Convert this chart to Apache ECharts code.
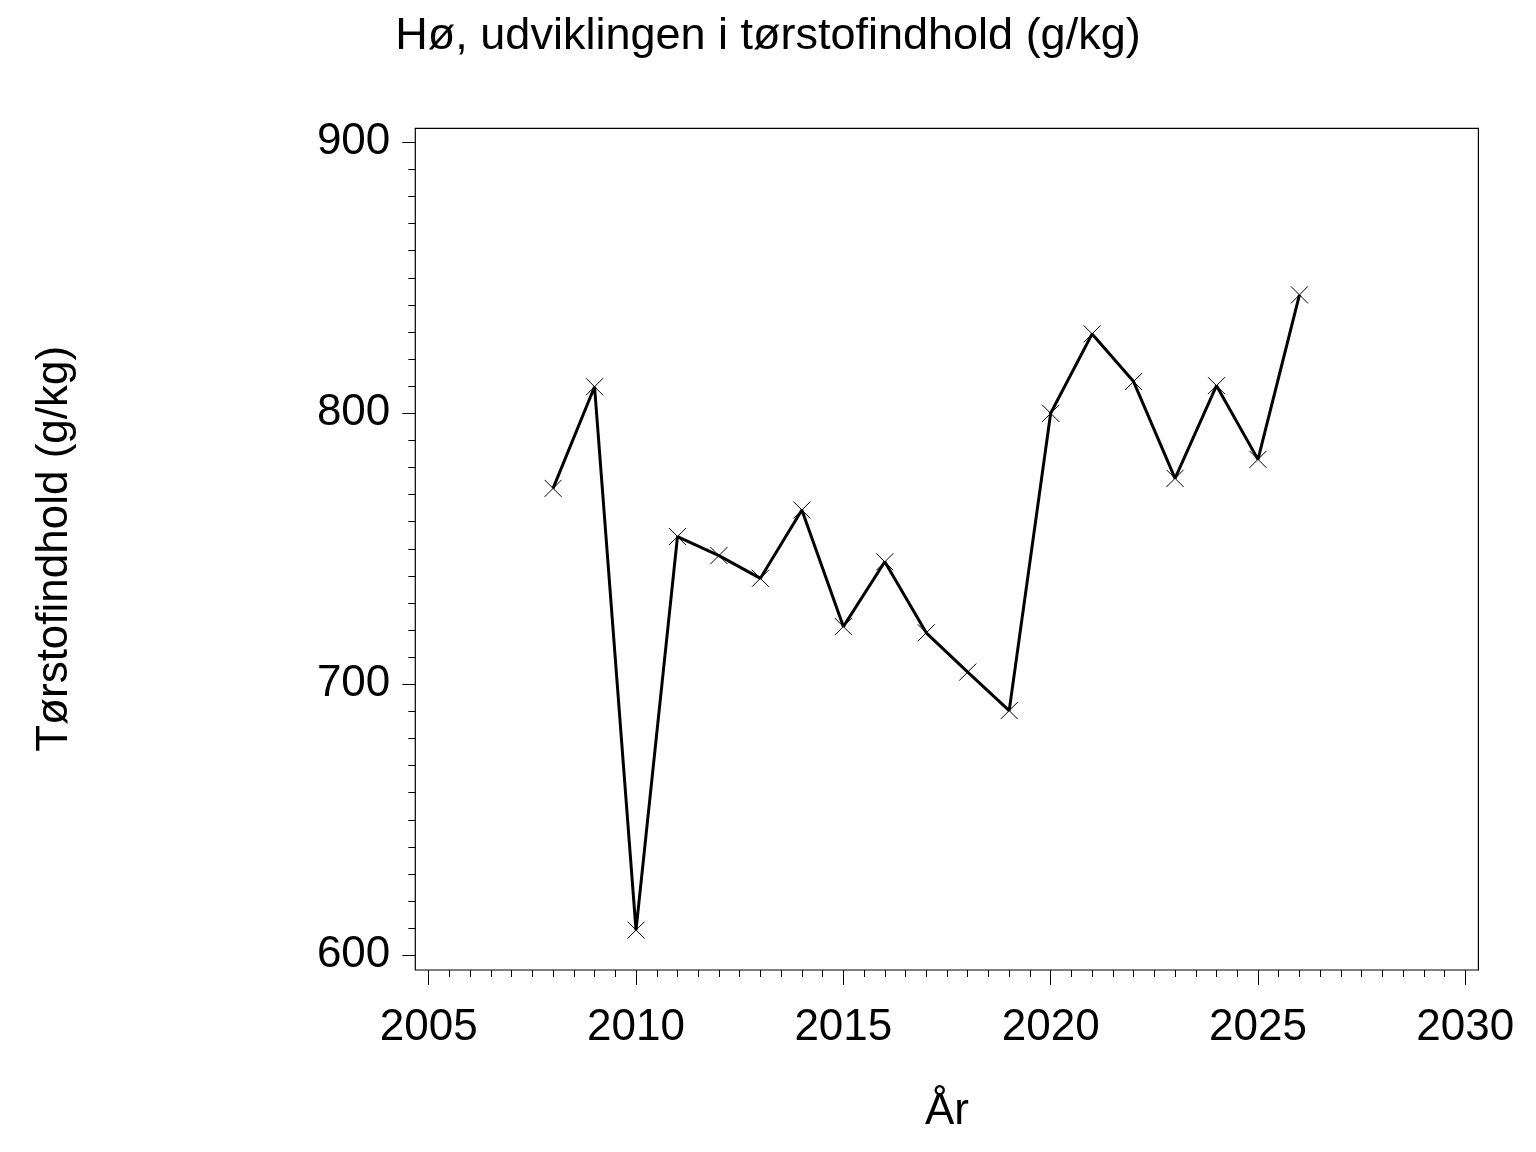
<!DOCTYPE html>
<html>
<head>
<meta charset="utf-8">
<script src="https://cdn.jsdelivr.net/npm/echarts@6/dist/echarts.min.js"></script>
<style>
html,body{margin:0;padding:0;background:#fff;}
#chart{width:1536px;height:1152px;}
</style>
</head>
<body>
<div id="chart"></div>
<script>
var years = [2008, 2009, 2010, 2011, 2012, 2013, 2014, 2015, 2016, 2017, 2018, 2019, 2020, 2021, 2022, 2023, 2024, 2025, 2026];
var values = [772.3, 809.8, 609.3, 754.5, 747.5, 739.1, 764.3, 721.3, 745.2, 719.0, 704.5, 690.3, 800.0, 829.3, 811.7, 776.0, 810.2, 783.0, 843.7];
var xTicks = [2005, 2030, 5];
var yTicks = [600, 900, 100];
var titleText = 'Hø, udviklingen i tørstofindhold (g/kg)';
var yName = 'Tørstofindhold (g/kg)';
var xName = 'År';

var FONT = '"Liberation Sans", Arial, Helvetica, sans-serif';
var chart = echarts.init(document.getElementById('chart'), null, {renderer: 'canvas'});
var pts = years.map(function (y, i) { return [y, values[i]]; });

chart.setOption({
  backgroundColor: '#fff',
  animation: false,
  title: {
    text: titleText,
    left: 'center',
    top: 9,
    textStyle: {fontFamily: FONT, fontSize: 45, fontWeight: 'normal', color: '#000'}
  },
  grid: [
    {left: 428.7, top: 142.3, width: 1036.6, height: 813, show: false},
    {left: 415.3, top: 128.3, width: 1063.1, height: 841.7, show: true, borderColor: '#000', borderWidth: 1.2, backgroundColor: 'transparent'}
  ],
  xAxis: [
    {
      type: 'value', gridIndex: 0, min: xTicks[0], max: xTicks[1], interval: xTicks[2],
      offset: 14.7, position: 'bottom',
      name: xName, nameLocation: 'middle', nameGap: 120,
      nameTextStyle: {fontFamily: FONT, fontSize: 44, color: '#000'},
      axisLine: {show: false},
      axisTick: {show: true, length: 15, inside: false, lineStyle: {color: '#000', width: 1}},
      minorTick: {show: true, splitNumber: 10, length: 7, lineStyle: {color: '#000', width: 1}},
      splitLine: {show: false},
      axisLabel: {fontFamily: FONT, fontSize: 44, color: '#000', margin: 36,
        formatter: function (v) { return String(v); }}
    },
    {type: 'value', gridIndex: 1, min: 0, max: 1, show: false}
  ],
  yAxis: [
    {
      type: 'value', gridIndex: 0, min: yTicks[0], max: yTicks[1], interval: yTicks[2],
      offset: 13.4, position: 'left',
      name: yName, nameLocation: 'middle', nameGap: 338, nameRotate: 90,
      nameTextStyle: {fontFamily: FONT, fontSize: 44, color: '#000'},
      axisLine: {show: false},
      axisTick: {show: true, length: 13, lineStyle: {color: '#000', width: 1}},
      minorTick: {show: true, splitNumber: 10, length: 7, lineStyle: {color: '#000', width: 1}},
      splitLine: {show: false},
      axisLabel: {fontFamily: FONT, fontSize: 44, color: '#000', margin: 25,
        formatter: function (v) { return String(v); }}
    },
    {type: 'value', gridIndex: 1, min: 0, max: 1, show: false}
  ],
  series: [{
    type: 'line',
    xAxisIndex: 0, yAxisIndex: 0,
    data: pts,
    lineStyle: {color: '#000', width: 3},
    symbol: 'path://M0,0L10,10M10,0L0,10',
    symbolSize: 17,
    showAllSymbol: true,
    itemStyle: {color: 'rgba(0,0,0,0)', borderColor: '#000', borderWidth: 1},
    emphasis: {disabled: true},
    z: 3
  }]
});
</script>
</body>
</html>
